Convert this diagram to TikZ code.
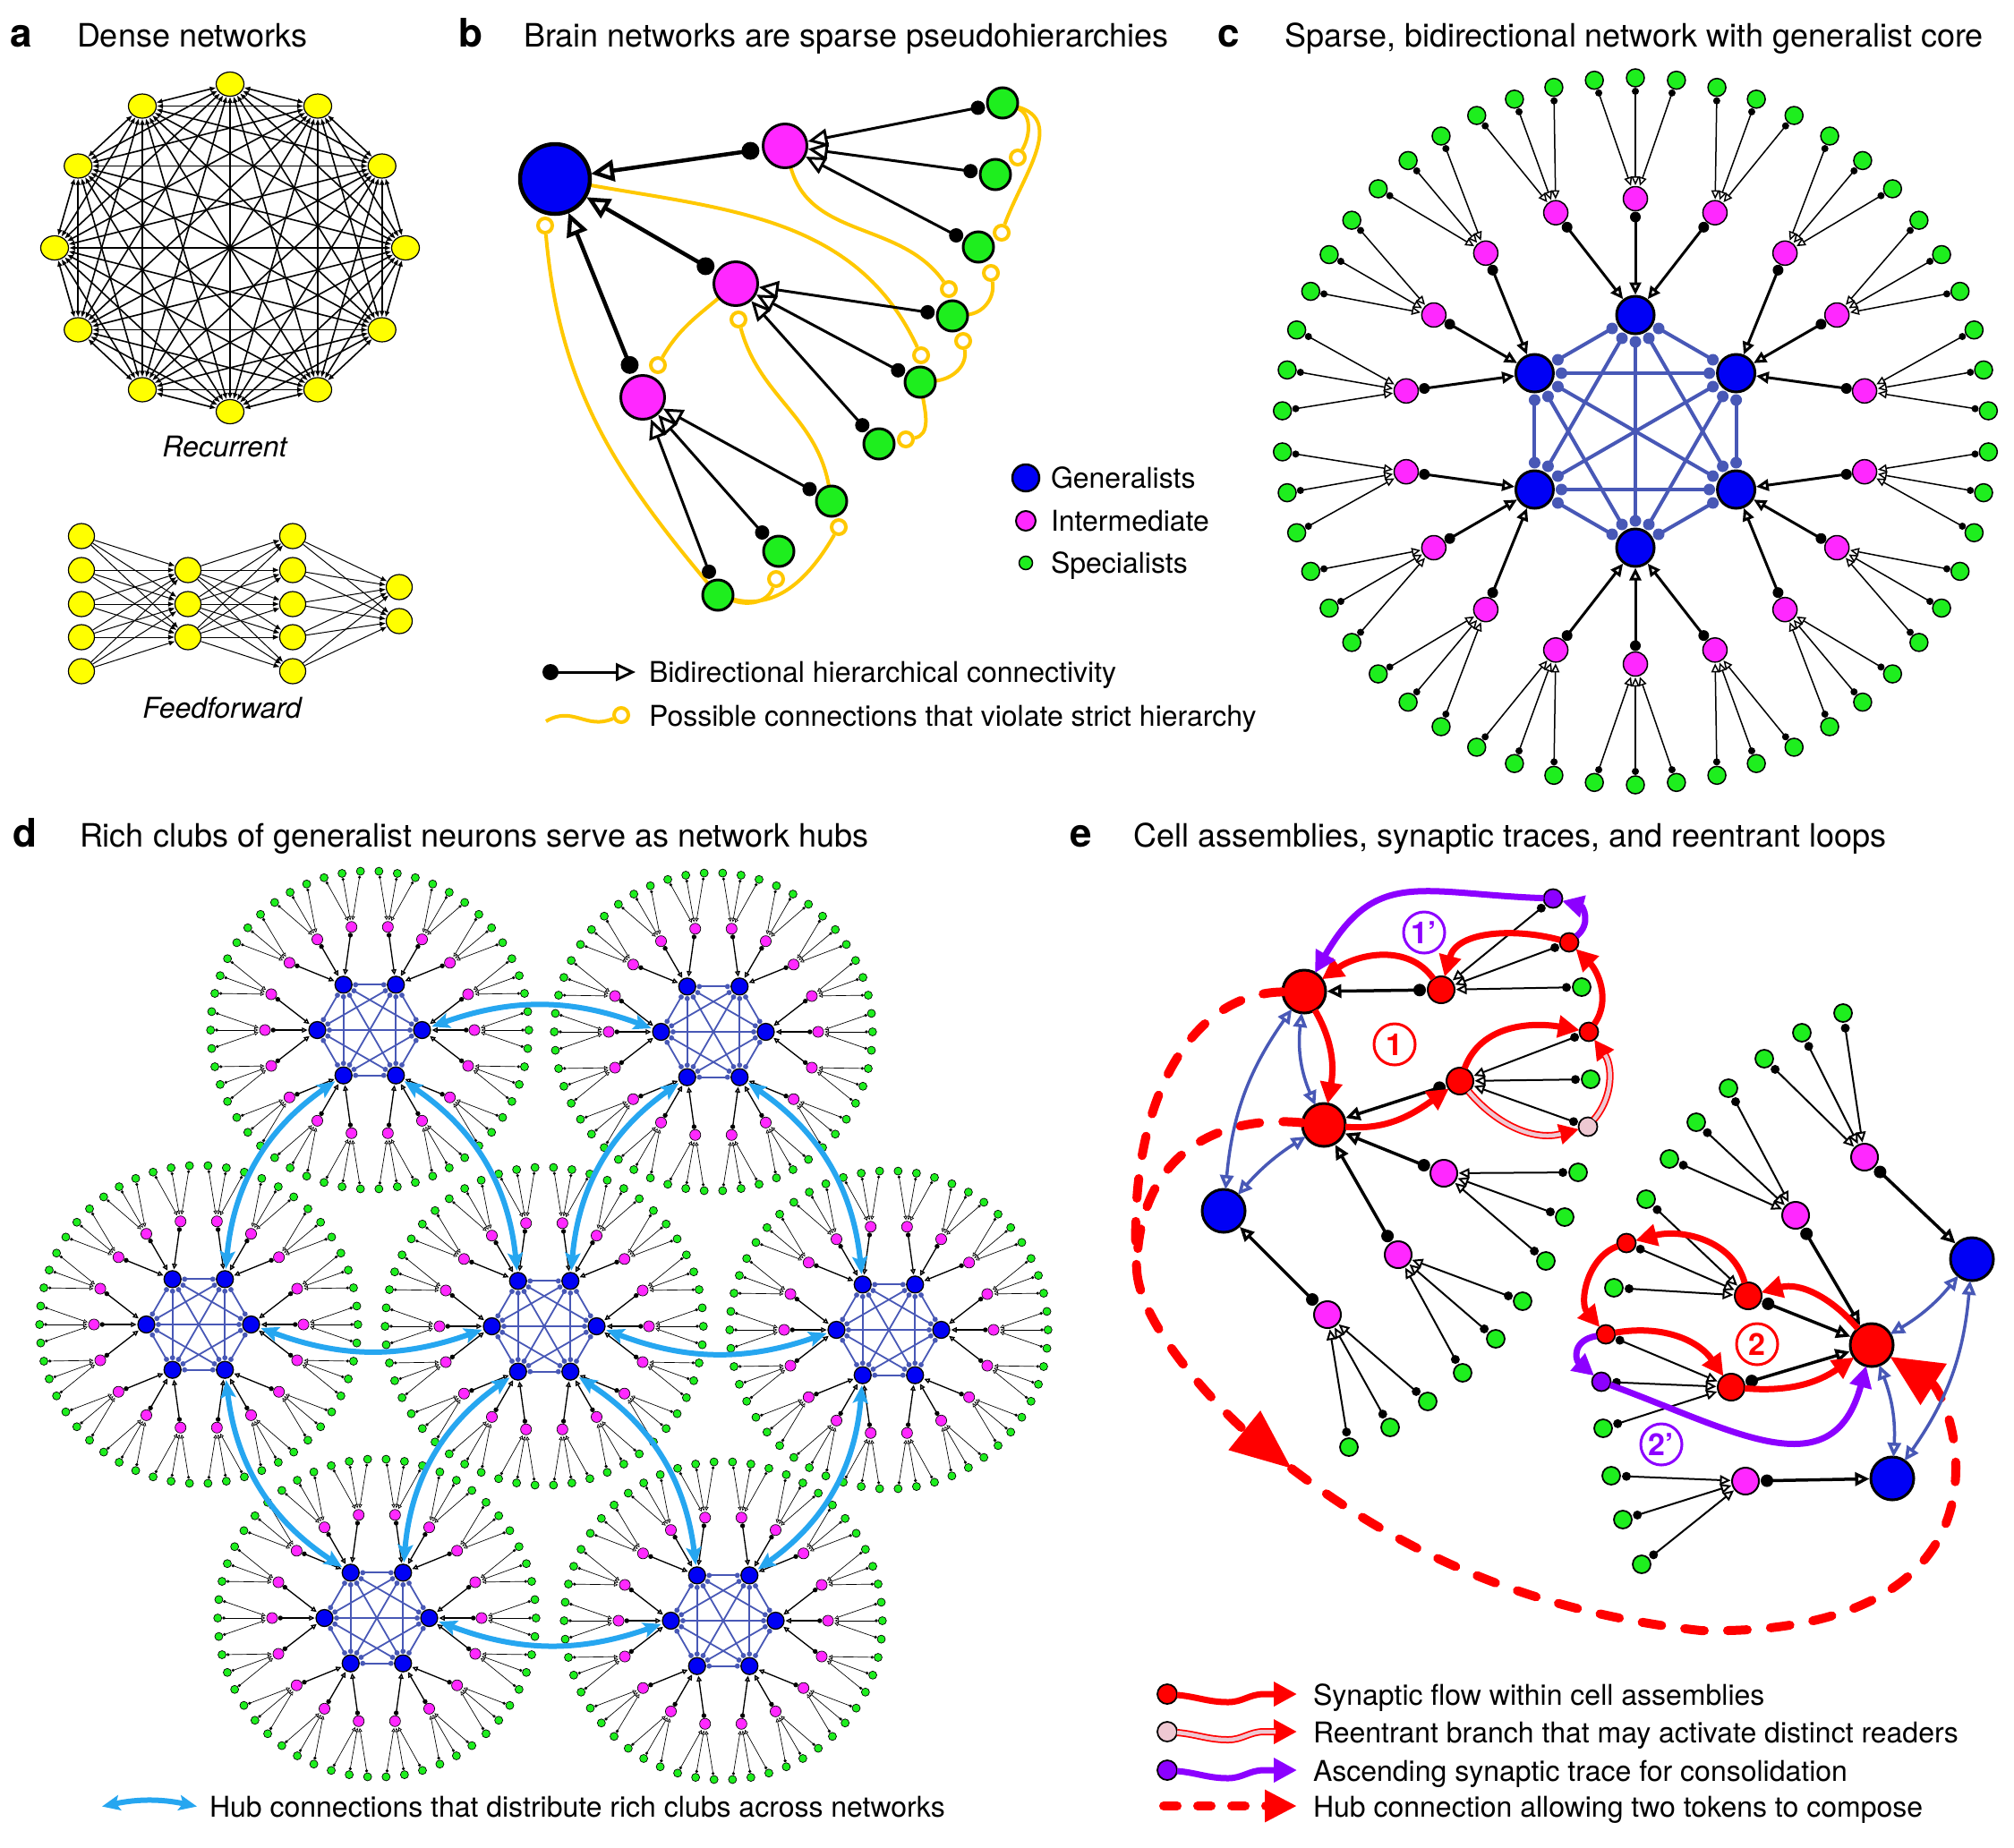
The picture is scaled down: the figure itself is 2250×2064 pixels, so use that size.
\documentclass[tikz,border=0pt]{standalone}
\usepackage{fontspec}
\setmainfont{TeX Gyre Heros}
\usetikzlibrary{arrows.meta,calc,shapes.geometric}
\pgfdeclarelayer{bg}
\pgfsetlayers{bg,main}
\definecolor{cgen}{RGB}{0,0,245}
\definecolor{cint}{RGB}{255,40,255}
\definecolor{cspe}{RGB}{30,238,30}
\definecolor{cedge}{RGB}{72,88,182}
\definecolor{chub}{RGB}{38,166,240}
\definecolor{cyel}{RGB}{255,255,0}
\definecolor{cgold}{RGB}{255,200,0}
\definecolor{cred}{RGB}{255,0,0}
\definecolor{cpur}{RGB}{140,0,255}
\definecolor{cpink}{RGB}{238,200,210}
\newcommand\ftitle{\fontsize{36}{40}\selectfont}
\newcommand\flegend{\fontsize{32}{36}\selectfont}
\newcommand\fletter{\fontsize{44}{48}\selectfont\bfseries}
\tikzset{
  nd/.style={circle,draw=black,inner sep=0pt,outer sep=0pt},
  lbl/.style={inner sep=0pt,outer sep=0pt,anchor=base west},
  ynode/.style={ellipse,draw=black,fill=cyel,line width=1.2pt,minimum width=31pt,minimum height=27pt,inner sep=0pt},
  fnode/.style={ellipse,draw=black,fill=cyel,line width=1.2pt,minimum width=29pt,minimum height=28pt,inner sep=0pt},
  recar/.style={line width=1.6pt,{Latex[length=7pt,width=6pt]}-{Latex[length=7pt,width=6pt]}},
  ffar/.style={line width=1pt,-{Latex[length=7pt,width=6pt]}},
  bG/.style={nd,fill=cgen,line width=4.5pt,minimum size=78pt},
  bI/.style={nd,fill=cint,line width=3pt,minimum size=49pt},
  bS/.style={nd,fill=cspe,line width=3pt,minimum size=34pt},
  ring/.style={circle,draw=cgold,fill=white,line width=4pt,minimum size=16pt,inner sep=0pt},
  ycurve/.style={draw=cgold,line width=4pt},
  hubar/.style={chub,line width=6pt,{Stealth[length=20pt,width=17pt,inset=4pt]}-{Stealth[length=20pt,width=17pt,inset=4pt]},shorten <=2pt,shorten >=2pt},
  ebig/.style={nd,line width=3pt,minimum size=48pt},
  emed/.style={nd,line width=2pt,minimum size=30pt},
  esml/.style={nd,line width=1.8pt,minimum size=21pt},
  egrn/.style={nd,fill=cspe,line width=1.8pt,minimum size=20pt},
  redar/.style={cred,line width=7pt,-{Triangle[length=24pt,width=24pt]}},
  purar/.style={cpur,line width=7pt,-{Triangle[length=24pt,width=24pt]}},
  bluar/.style={cedge,line width=3.5pt,{Triangle[open,length=16pt,width=15pt]}-{Triangle[open,length=16pt,width=15pt]}},
  hubdash/.style={cred,line width=10pt,dash pattern=on 22pt off 26pt,line cap=round},
  clab/.style={circle,draw,line width=3pt,minimum size=46pt,inner sep=0pt,font=\fontsize{34}{34}\selectfont\bfseries},
}
% hierarchical arrow: src, dst, dot distance, dot radius, line width, head length, head width
\newcommand\hier[7]{%
  \draw[line width=#5,-{Triangle[open,length=#6,width=#7]},shorten >=1.5pt] ($(#1)!#3!(#2)$) -- (#2);
  \fill ($(#1)!#3!(#2)$) circle[radius=#4];
}
\newcommand\hk[2]{\hier{#1}{#2}{24pt}{7pt}{3.5pt}{16pt}{15pt}}
\newcommand\hs[2]{\hier{#1}{#2}{17pt}{5pt}{2pt}{12pt}{11pt}}
\newcommand\reent[3]{%
  \draw[cred,line width=8pt,-{Triangle[length=22pt,width=22pt]}] (#1) to[#3] (#2);
  \draw[cpink,line width=4.5pt,shorten >=21pt] (#1) to[#3] (#2);
}
% sunflower network: cx, cy (screen), scale, rotation, prefix
\newcommand\sunflower[5]{%
  \pgfmathsetmacro\sfR{130*#3}%
  \pgfmathsetmacro\sfRi{260*#3}%
  \pgfmathsetmacro\sfRs{395*#3}%
  \pgfmathsetmacro\sfgd{42*#3}%
  \pgfmathsetmacro\sfid{27*#3}%
  \pgfmathsetmacro\sfsd{20*#3}%
  \pgfmathsetmacro\sfglw{3*#3}%
  \pgfmathsetmacro\sfnlw{1.5*#3}%
  \pgfmathsetmacro\sfed{30*#3}%
  \pgfmathsetmacro\sfer{6.5*#3}%
  \pgfmathsetmacro\sfelw{4*#3}%
  \pgfmathsetmacro\sfidd{20.5*#3}%
  \pgfmathsetmacro\sfidr{6*#3}%
  \pgfmathsetmacro\sfilw{3*#3}%
  \pgfmathsetmacro\sfihl{14*#3}%
  \pgfmathsetmacro\sfihw{13*#3}%
  \pgfmathsetmacro\sfsdd{15*#3}%
  \pgfmathsetmacro\sfsdr{4*#3}%
  \pgfmathsetmacro\sfslw{1.5*#3}%
  \pgfmathsetmacro\sfshl{10*#3}%
  \pgfmathsetmacro\sfshw{9*#3}%
  \foreach \ki in {0,...,5}{%
    \pgfmathsetmacro\sfa{30+60*\ki+#4}%
    \node[nd,fill=cgen,line width=\sfglw pt,minimum size=\sfgd pt] (#5g\ki) at ({#1+\sfR*cos(\sfa)},{-#2+\sfR*sin(\sfa)}) {};
  }%
  \foreach \ki in {0,...,17}{%
    \pgfmathsetmacro\sfa{10+20*\ki+#4}%
    \node[nd,fill=cint,line width=\sfnlw pt,minimum size=\sfid pt] (#5i\ki) at ({#1+\sfRi*cos(\sfa)},{-#2+\sfRi*sin(\sfa)}) {};
    \foreach \ji in {0,1,2}{%
      \pgfmathsetmacro\sfb{\sfa+(\ji-1)*20/3}%
      \node[nd,fill=cspe,line width=\sfnlw pt,minimum size=\sfsd pt] (#5s\ki x\ji) at ({#1+\sfRs*cos(\sfb)},{-#2+\sfRs*sin(\sfb)}) {};
    }%
  }%
  \begin{pgfonlayer}{bg}
  \foreach \ii in {0,...,4}{%
    \pgfmathtruncatemacro\ip{\ii+1}%
    \foreach \jj in {\ip,...,5}{%
      \draw[cedge,line width=\sfelw pt] ($(#5g\ii)!\sfed pt!(#5g\jj)$) -- ($(#5g\jj)!\sfed pt!(#5g\ii)$);
      \fill[cedge] ($(#5g\ii)!\sfed pt!(#5g\jj)$) circle[radius=\sfer pt] ($(#5g\jj)!\sfed pt!(#5g\ii)$) circle[radius=\sfer pt];
    }%
  }%
  \foreach \ki in {0,...,17}{%
    \pgfmathtruncatemacro\gm{\ki/3}%
    \hier{#5i\ki}{#5g\gm}{\sfidd pt}{\sfidr pt}{\sfilw pt}{\sfihl pt}{\sfihw pt}%
    \foreach \ji in {0,1,2}{%
      \hier{#5s\ki x\ji}{#5i\ki}{\sfsdd pt}{\sfsdr pt}{\sfslw pt}{\sfshl pt}{\sfshw pt}%
    }%
  }%
  \end{pgfonlayer}
}
\begin{document}
\begin{tikzpicture}[x=1pt,y=1pt]
\useasboundingbox (0,0) rectangle (2250,-2064);
\begin{pgfonlayer}{bg}
\fill[white] (0,0) rectangle (2250,-2064);
\end{pgfonlayer}

% ---------------- titles
\node[lbl,font=\fletter] (ta) at (12,-52) {a};
\node[lbl,font=\ftitle] (tta) at (86,-52) {Dense networks};
\node[lbl,font=\fletter] (tb) at (512,-52) {b};
\node[lbl,font=\ftitle] (ttb) at (585,-52) {Brain networks are sparse pseudohierarchies};
\node[lbl,font=\fletter] (tc) at (1360,-52) {c};
\node[lbl,font=\ftitle] (ttc) at (1435,-52) {Sparse, bidirectional network with generalist core};
\node[lbl,font=\fletter] (td) at (14,-946) {d};
\node[lbl,font=\ftitle] (ttd) at (89,-946) {Rich clubs of generalist neurons serve as network hubs};
\node[lbl,font=\fletter] (te) at (1195,-946) {e};
\node[lbl,font=\ftitle] (tte) at (1266,-946) {Cell assemblies, synaptic traces, and reentrant loops};

% ---------------- panel a
\foreach \ii in {0,...,11}{%
  \pgfmathsetmacro\sfa{90-30*\ii}%
  \node[ynode] (ra\ii) at ({257+196*cos(\sfa)},{-277+183*sin(\sfa)}) {};
}
\foreach \yy [count=\nn] in {599,637,675,712,750}{\node[fnode] (fa\nn) at (91,-\yy) {};}
\foreach \yy [count=\nn] in {637,675,712}{\node[fnode] (fb\nn) at (210,-\yy) {};}
\foreach \yy [count=\nn] in {599,637,675,712,750}{\node[fnode] (fc\nn) at (327,-\yy) {};}
\foreach \yy [count=\nn] in {656,694}{\node[fnode] (fd\nn) at (446,-\yy) {};}
\begin{pgfonlayer}{bg}
\foreach \ii in {0,...,10}{%
  \pgfmathtruncatemacro\ip{\ii+1}%
  \foreach \jj in {\ip,...,11}{\draw[recar] (ra\ii) -- (ra\jj);}
}
\foreach \ii in {1,...,5}{\foreach \jj in {1,2,3}{\draw[ffar] (fa\ii) -- (fb\jj);}}
\foreach \ii in {1,2,3}{\foreach \jj in {1,...,5}{\draw[ffar] (fb\ii) -- (fc\jj);}}
\foreach \ii in {1,...,5}{\foreach \jj in {1,2}{\draw[ffar] (fc\ii) -- (fd\jj);}}
\end{pgfonlayer}
\node[inner sep=0pt,anchor=base,font=\flegend\itshape] (trec) at (251,-510) {Recurrent};
\node[inner sep=0pt,anchor=base,font=\flegend\itshape] (tff) at (248,-802) {Feedforward};

% ---------------- panel b
\node[bG] (bGn) at (620,-200) {};
\node[bI] (bI1) at (877,-163) {};
\node[bI] (bI2) at (822,-317) {};
\node[bI] (bI3) at (718,-444) {};
\node[bS] (bS1a) at (1120,-115) {};
\node[bS] (bS1b) at (1112,-195) {};
\node[bS] (bS1c) at (1093,-276) {};
\node[bS] (bS2a) at (1064,-353) {};
\node[bS] (bS2b) at (1028,-427) {};
\node[bS] (bS2c) at (982,-496) {};
\node[bS] (bS3a) at (929,-560) {};
\node[bS] (bS3b) at (870,-616) {};
\node[bS] (bS3c) at (802,-665) {};
\node[ring] (r1) at (1137,-176) {};
\node[ring] (r2) at (1119,-260) {};
\node[ring] (r3) at (1060,-323) {};
\node[ring] (r4) at (1107,-305) {};
\node[ring] (r5) at (1029,-397) {};
\node[ring] (r6) at (1076,-381) {};
\node[ring] (r7) at (1012,-491) {};
\node[ring] (r8) at (735,-408) {};
\node[ring] (r9) at (825,-357) {};
\node[ring] (r10) at (609,-252) {};
\node[ring] (r11) at (937,-589) {};
\node[ring] (r12) at (867,-647) {};
\begin{pgfonlayer}{bg}
\draw[ycurve] (bS1a) to[out=-20,in=60] (r1);
\draw[ycurve] (bS1a) to[out=-15,in=70,looseness=1.1] (r2);
\draw[ycurve] (bI1) to[out=-75,in=125] (r3);
\draw[ycurve] (bS2a) to[out=5,in=-80] (r4);
\draw[ycurve] (bGn) to[out=-10,in=115] (r5);
\draw[ycurve] (bS2b) to[out=5,in=-80] (r6);
\draw[ycurve] (bS2b) to[out=-80,in=10] (r7);
\draw[ycurve] (bI2) to[out=-140,in=60] (r8);
\draw[ycurve] (bS3a) to[out=100,in=-75] (r9);
\draw[ycurve] (bS3c) to[out=130,in=-85] (r10);
\draw[ycurve] (bS3c) to[out=-15,in=-120] (r11);
\draw[ycurve] (bS3c) to[out=-20,in=-110] (r12);
\hier{bI1}{bGn}{39pt}{10pt}{4.5pt}{26pt}{24pt}
\hier{bI2}{bGn}{39pt}{10pt}{4.5pt}{26pt}{24pt}
\hier{bI3}{bGn}{39pt}{10pt}{4.5pt}{26pt}{24pt}
\foreach \ss in {bS1a,bS1b,bS1c}{\hier{\ss}{bI1}{28pt}{8pt}{3pt}{22pt}{20pt}}
\foreach \ss in {bS2a,bS2b,bS2c}{\hier{\ss}{bI2}{28pt}{8pt}{3pt}{22pt}{20pt}}
\foreach \ss in {bS3a,bS3b,bS3c}{\hier{\ss}{bI3}{28pt}{8pt}{3pt}{22pt}{20pt}}
\end{pgfonlayer}
% legend b
\node[nd,fill=cgen,line width=2.5pt,minimum size=30pt] (lgG) at (1146,-534) {};
\node[nd,fill=cint,line width=2pt,minimum size=22pt] (lgI) at (1146,-582) {};
\node[nd,fill=cspe,line width=1.5pt,minimum size=15pt] (lgS) at (1146,-629) {};
\node[lbl,font=\flegend] (tlgG) at (1174,-545) {Generalists};
\node[lbl,font=\flegend] (tlgI) at (1174,-593) {Intermediate};
\node[lbl,font=\flegend] (tlgS) at (1174,-640) {Specialists};
\coordinate (lbd) at (615,-751);
\coordinate (lbt) at (710,-751);
\draw[line width=3pt,-{Triangle[open,length=22pt,width=20pt]}] (lbd) -- (lbt);
\fill (lbd) circle[radius=9pt];
\node[ring] (lyr) at (694,-799) {};
\coordinate (lys) at (610,-806);
\draw[ycurve] (lys) .. controls (640,-788) and (655,-816) .. (lyr);
\node[lbl,font=\flegend] (tlb1) at (725,-762) {Bidirectional hierarchical connectivity};
\node[lbl,font=\flegend] (tlb2) at (725,-811) {Possible connections that violate strict hierarchy};

% ---------------- panel c
\sunflower{1827}{482}{1}{0}{C}

% ---------------- panel d
\sunflower{413}{1151}{0.45}{30}{TL}
\sunflower{797}{1153}{0.45}{30}{TR}
\sunflower{222}{1480}{0.45}{30}{ML}
\sunflower{608}{1482}{0.45}{30}{MC}
\sunflower{993}{1486}{0.45}{30}{MR}
\sunflower{421}{1808}{0.45}{30}{BL}
\sunflower{808}{1811}{0.45}{30}{BR}
\draw[hubar] (TLg5) to[bend left=20] (TRg2);
\draw[hubar] (TLg3) to[bend right=25] (MLg0);
\draw[hubar] (TLg4) to[bend left=25] (MCg1);
\draw[hubar] (TRg3) to[bend right=25] (MCg0);
\draw[hubar] (TRg4) to[bend left=25] (MRg1);
\draw[hubar] (MLg5) to[bend right=20] (MCg2);
\draw[hubar] (MCg5) to[bend right=20] (MRg2);
\draw[hubar] (MLg4) to[bend right=25] (BLg1);
\draw[hubar] (MCg3) to[bend right=25] (BLg0);
\draw[hubar] (MCg4) to[bend left=25] (BRg1);
\draw[hubar] (MRg3) to[bend left=25] (BRg0);
\draw[hubar] (BLg5) to[bend right=20] (BRg2);
\coordinate (hlA) at (112,-2019);
\coordinate (hlB) at (222,-2019);
\draw[hubar] (hlA) to[bend left=12] (hlB);
\node[lbl,font=\flegend] (tld) at (234,-2030) {Hub connections that distribute rich clubs across networks};

% ---------------- panel e nodes
\node[ebig,fill=cred] (eR1) at (1457,-1108) {};
\node[ebig,fill=cred] (eR2) at (1479,-1257) {};
\node[ebig,fill=cgen] (eB1) at (1367,-1353) {};
\node[emed,fill=cred] (eA) at (1610,-1106) {};
\node[esml,fill=cpur] (eP1) at (1735,-1004) {};
\node[esml,fill=cred] (eB) at (1753,-1053) {};
\node[egrn] (eg1) at (1767,-1103) {};
\node[emed,fill=cred] (eC) at (1631,-1208) {};
\node[esml,fill=cred] (eD) at (1775,-1153) {};
\node[egrn] (eg2) at (1777,-1206) {};
\node[esml,fill=cpink] (eK) at (1774,-1259) {};
\node[emed,fill=cint] (eM1) at (1613,-1311) {};
\node[egrn] (eM1a) at (1763,-1310) {};
\node[egrn] (eM1b) at (1748,-1360) {};
\node[egrn] (eM1c) at (1727,-1409) {};
\node[emed,fill=cint] (eM2) at (1562,-1402) {};
\node[egrn] (eM2a) at (1701,-1454) {};
\node[egrn] (eM2b) at (1671,-1496) {};
\node[egrn] (eM2c) at (1634,-1534) {};
\node[emed,fill=cint] (eM3) at (1483,-1469) {};
\node[egrn] (eM3a) at (1595,-1566) {};
\node[egrn] (eM3b) at (1553,-1595) {};
\node[egrn] (eM3c) at (1507,-1617) {};
\node[ebig,fill=cred] (eR3) at (2091,-1503) {};
\node[ebig,fill=cgen] (eB2) at (2203,-1407) {};
\node[ebig,fill=cgen] (eB3) at (2114,-1652) {};
\node[emed,fill=cred] (eE) at (1953,-1448) {};
\node[esml,fill=cred] (eF) at (1817,-1389) {};
\node[esml,fill=cred] (eG) at (1794,-1491) {};
\node[emed,fill=cred] (eH) at (1934,-1550) {};
\node[esml,fill=cpur] (eP2) at (1789,-1544) {};
\node[emed,fill=cint] (eM4) at (2006,-1358) {};
\node[egrn] (eM4a) at (1931,-1216) {};
\node[egrn] (eM4b) at (1895,-1254) {};
\node[egrn] (eM4c) at (1865,-1295) {};
\node[emed,fill=cint] (eM5) at (2083,-1293) {};
\node[egrn] (eM5a) at (2059,-1132) {};
\node[egrn] (eM5b) at (2013,-1154) {};
\node[egrn] (eM5c) at (1971,-1183) {};
\node[emed,fill=cint] (eM6) at (1950,-1655) {};
\node[egrn] (eM6a) at (1800,-1649) {};
\node[egrn] (eM6b) at (1813,-1698) {};
\node[egrn] (eM6c) at (1834,-1748) {};
\node[egrn] (eEa) at (1839,-1340) {};
\node[egrn] (eEb) at (1803,-1439) {};
\node[egrn] (eHa) at (1791,-1596) {};

\begin{pgfonlayer}{bg}
\hk{eA}{eR1} \hk{eC}{eR2} \hk{eM1}{eR2} \hk{eM2}{eR2} \hk{eM3}{eB1}
\hs{eP1}{eA} \hs{eB}{eA} \hs{eg1}{eA}
\hs{eD}{eC} \hs{eg2}{eC} \hs{eK}{eC}
\hs{eM1a}{eM1} \hs{eM1b}{eM1} \hs{eM1c}{eM1}
\hs{eM2a}{eM2} \hs{eM2b}{eM2} \hs{eM2c}{eM2}
\hs{eM3a}{eM3} \hs{eM3b}{eM3} \hs{eM3c}{eM3}
\hk{eE}{eR3} \hk{eH}{eR3} \hk{eM4}{eR3} \hk{eM5}{eB2} \hk{eM6}{eB3}
\hs{eF}{eE} \hs{eEa}{eE} \hs{eEb}{eE}
\hs{eG}{eH} \hs{eP2}{eH} \hs{eHa}{eH}
\hs{eM4a}{eM4} \hs{eM4b}{eM4} \hs{eM4c}{eM4}
\hs{eM5a}{eM5} \hs{eM5b}{eM5} \hs{eM5c}{eM5}
\hs{eM6a}{eM6} \hs{eM6b}{eM6} \hs{eM6c}{eM6}
\end{pgfonlayer}

% dashed hub connection
\coordinate (dm) at (1270,-1420);
\coordinate (dtip) at (1443,-1641);
\draw[hubdash] (eR1) .. controls (1330,-1110) and (1258,-1230) .. (dm);
\draw[hubdash] (eR2) .. controls (1360,-1245) and (1270,-1290) .. (dm);
\draw[hubdash,-{Triangle[length=68pt,width=54pt]}] (dm) .. controls (1275,-1490) and (1380,-1590) .. (dtip);
\draw[hubdash,-{Triangle[length=58pt,width=52pt]}] (dtip) .. controls (1560,-1730) and (1700,-1800) .. (1900,-1822) .. controls (2080,-1826) and (2185,-1760) .. (2185,-1640) .. controls (2185,-1590) and (2165,-1550) .. (eR3);

% blue bidirectional
\draw[bluar] (eR1) to[bend right=15] (eR2);
\draw[bluar] (eR1) to[bend right=15] (eB1);
\draw[bluar] (eR2) to[bend right=8] (eB1);
\draw[bluar] (eR3) to[bend right=10] (eB2);
\draw[bluar] (eB2) to[bend left=15] (eB3);
\draw[bluar] (eR3) to[bend left=12] (eB3);

% red flow, assembly 1
\draw[redar] (eR1) to[out=-60,in=80] (eR2);
\draw[redar] (eR2) to[out=-5,in=215] (eC);
\draw[redar] (eC) to[out=70,in=170] (eD);
\draw[redar] (eD) to[out=55,in=-45] (eB);
\draw[redar] (eB) to[out=165,in=75] (eA);
\draw[redar] (eA) to[out=125,in=35] (eR1);
\draw[purar] (eB) to[out=40,in=-15,looseness=1.4] (eP1);
\draw[purar] (eP1) to[out=178,in=60,looseness=1.3] (eR1);
\reent{eC}{eK}{out=-50,in=195}
\reent{eK}{eD}{out=50,in=-55}
% assembly 2
\draw[redar] (eR3) to[out=130,in=15] (eE);
\draw[redar] (eE) to[out=105,in=15] (eF);
\draw[redar] (eF) to[out=200,in=130] (eG);
\draw[redar] (eG) to[out=10,in=125] (eH);
\draw[redar] (eH) to[out=-5,in=215] (eR3);
\draw[purar] (eG) to[out=190,in=140,looseness=1.6] (eP2);
\draw[purar] (eP2) to[out=-20,in=255,looseness=1.3] (eR3);

% circled labels
\node[clab,draw=cpur,text=cpur] (l1p) at (1591,-1042) {1’};
\node[clab,draw=cred,text=cred] (l1) at (1558,-1167) {1};
\node[clab,draw=cred,text=cred] (l2) at (1963,-1502) {2};
\node[clab,draw=cpur,text=cpur] (l2p) at (1856,-1614) {2’};

% legend e
\node[esml,fill=cred,minimum size=22pt] (le1) at (1304,-1893) {};
\node[esml,fill=cpink,minimum size=22pt] (le2) at (1304,-1935) {};
\node[esml,fill=cpur,minimum size=22pt] (le3) at (1304,-1978) {};
\draw[cred,line width=7pt,-{Triangle[length=26pt,width=26pt]}] (le1) to[out=-5,in=180] (1372,-1902) to[out=0,in=180] (1412,-1893) -- (1449,-1893);
\draw[cred,line width=8pt,-{Triangle[length=26pt,width=26pt]}] (le2) to[out=-5,in=180] (1372,-1944) to[out=0,in=180] (1412,-1935) -- (1449,-1935);
\draw[cpink,line width=4.5pt,shorten >=24pt] (le2) to[out=-5,in=180] (1372,-1944) to[out=0,in=180] (1412,-1935) -- (1449,-1935);
\draw[cpur,line width=7pt,-{Triangle[length=26pt,width=26pt]}] (le3) to[out=-5,in=180] (1372,-1987) to[out=0,in=180] (1412,-1978) -- (1449,-1978);
\coordinate (le4a) at (1300,-2018);
\coordinate (le4b) at (1449,-2018);
\draw[hubdash,dash pattern=on 15pt off 23pt,-{Triangle[length=36pt,width=34pt]}] (le4a) -- (le4b);
\node[lbl,font=\flegend] (tle1) at (1467,-1905) {Synaptic flow within cell assemblies};
\node[lbl,font=\flegend] (tle2) at (1467,-1947) {Reentrant branch that may activate distinct readers};
\node[lbl,font=\flegend] (tle3) at (1467,-1990) {Ascending synaptic trace for consolidation};
\node[lbl,font=\flegend] (tle4) at (1467,-2030) {Hub connection allowing two tokens to compose};
\end{tikzpicture}
\end{document}
